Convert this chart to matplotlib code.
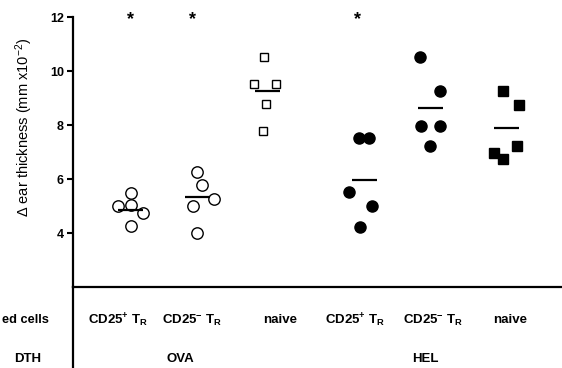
import matplotlib
matplotlib.use("Agg")
import matplotlib.pyplot as plt
import matplotlib.transforms as mtransforms
import numpy as np

plt.rcParams['font.family'] = ['Liberation Sans', 'DejaVu Sans']
plt.rcParams['mathtext.fontset'] = 'custom'
plt.rcParams['mathtext.rm'] = 'Liberation Sans'
plt.rcParams['mathtext.it'] = 'Liberation Sans:italic'
plt.rcParams['mathtext.bf'] = 'Liberation Sans:bold'

# ---- data ----
cells = [r'CD25$^{\mathbf{+}}$ T$_{\mathbf{R}}$', r'CD25$^{\mathbf{-}}$ T$_{\mathbf{R}}$', 'naive',
         r'CD25$^{\mathbf{+}}$ T$_{\mathbf{R}}$', r'CD25$^{\mathbf{-}}$ T$_{\mathbf{R}}$', 'naive']
dth = ['OVA', 'HEL']
row_titles = ['ed cells', 'DTH']
ova_cd25p = [5.48, 5.00, 5.04, 4.74, 4.26]
ova_cd25m = [6.26, 5.78, 5.26, 5.00, 4.00]
ova_naive = [10.52, 9.52, 9.52, 8.78, 7.78]
hel_cd25p = [7.52, 7.52, 5.52, 5.00, 4.22]
hel_cd25m = [10.52, 9.26, 7.96, 7.96, 7.22]
hel_naive = [9.26, 8.74, 7.22, 6.96, 6.74]
group_means = [4.85, 5.33, 9.26, 5.96, 8.63, 7.89]
significant = [True, True, False, True, False, False]
yticks = [4, 6, 8, 10, 12]

groups = [ova_cd25p, ova_cd25m, ova_naive, hel_cd25p, hel_cd25m, hel_naive]

# ---- layout ----
W, H = 562, 368
positions = [0.852, 1.844, 2.884, 4.319, 5.296, 6.415]
offsets = [
    [0, -0.18, 0, 0.185, 0],
    [0, 0.06, 0.25, -0.06, 0],
    [-0.05, -0.2, 0.12, -0.025, -0.075],
    [-0.08, 0.06, -0.23, 0.11, -0.06],
    [-0.16, 0.135, -0.135, 0.14, 0.0],
    [-0.05, 0.185, 0.16, -0.185, -0.05],
]
styles = [
    dict(marker='o', mfc='white', ms=8.2),
    dict(marker='o', mfc='white', ms=8.2),
    dict(marker='s', mfc='white', ms=5.6),
    dict(marker='o', mfc='black', ms=8.0),
    dict(marker='o', mfc='black', ms=8.0),
    dict(marker='s', mfc='black', ms=6.8),
]
star_dx = [0, -0.08, 0, -0.11, 0, 0]
label_x = [0.667, 1.763, 3.07, 4.18, 5.33, 6.47]
dth_x = [1.585, 5.215]

fig = plt.figure(figsize=(W / 100, H / 100), dpi=100)
ax = fig.add_axes([73 / W, 81 / H, 489 / W, 270 / H])

for vals, pos, offs, st in zip(groups, positions, offsets, styles):
    xs = np.array(offs) + pos
    ax.plot(xs, vals, linestyle='none', mec='black', mew=1.0, color='black',
            clip_on=False, **st)

for pos, m in zip(positions, group_means):
    ax.plot([pos - 0.185, pos + 0.185], [m, m], color='black', lw=1.6,
            solid_capstyle='butt')

for pos, sig, dx in zip(positions, significant, star_dx):
    if sig:
        ax.text(pos + dx, 11.75, '*', ha='center', va='baseline',
                fontsize=13, fontweight='bold', clip_on=False)

ax.set_xlim(0, 489 / 67.5)
ax.set_ylim(2, 12)
ax.set_yticks(yticks)
ax.set_yticklabels([str(t) for t in yticks], fontweight='bold', fontsize=9)
ax.set_xticks([])
ax.tick_params(axis='y', direction='out', length=4, width=1.5, pad=2.5)
for s in ['top', 'right']:
    ax.spines[s].set_visible(False)
for s in ['left', 'bottom']:
    ax.spines[s].set_linewidth(1.6)

fig.text(24 / W, 1 - 127 / H, r'$\Delta$ ear thickness (mm x10$^{\mathregular{-2}}$)',
         rotation=90, ha='center', va='center', fontsize=10.5)

# extension of the left axis below the plot
fig.add_artist(plt.Line2D([73 / W, 73 / W], [0, 81 / H], color='black', lw=1.6,
                          transform=fig.transFigure))

trans = mtransforms.blended_transform_factory(ax.transData, fig.transFigure)
for x, lab in zip(label_x, cells):
    ax.text(x, 1 - 320 / H, lab, transform=trans, ha='center', va='center',
            fontsize=9.5, fontweight='bold', clip_on=False)
for x, lab in zip(dth_x, dth):
    ax.text(x, 1 - 359 / H, lab, transform=trans, ha='center', va='center',
            fontsize=9.5, fontweight='bold', clip_on=False)

fig.text(1.5 / W, 1 - 320 / H, row_titles[0], ha='left', va='center',
         fontsize=9.2, fontweight='bold')
fig.text(41 / W, 1 - 359 / H, row_titles[1], ha='right', va='center',
         fontsize=9.5, fontweight='bold')

fig.savefig('out.png', dpi=100)
